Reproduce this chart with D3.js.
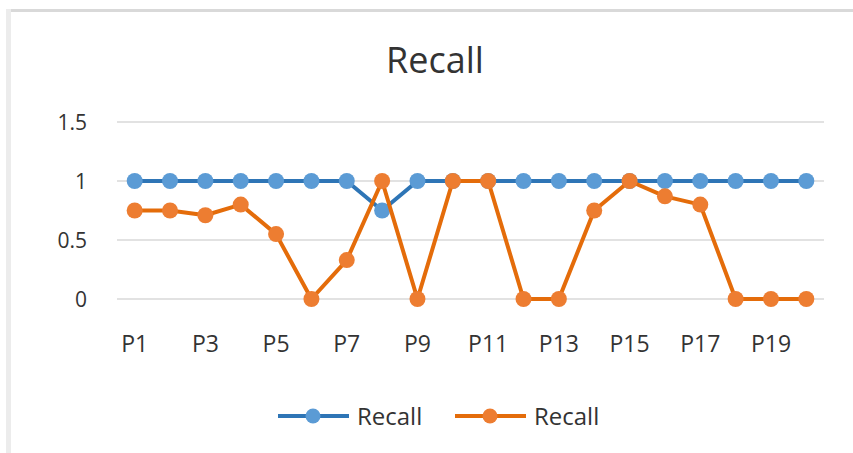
<!DOCTYPE html>
<html><head><meta charset="utf-8">
<script src="https://cdn.jsdelivr.net/npm/d3@7"></script>
<style>html,body{margin:0;padding:0;background:#fff;}svg{display:block;}</style>
</head><body>
<svg id="c" width="853" height="453"></svg>
<script>
const categories = ["P1","P2","P3","P4","P5","P6","P7","P8","P9","P10","P11","P12","P13","P14","P15","P16","P17","P18","P19","P20"];
const seriesBlue = [1,1,1,1,1,1,1,0.75,1,1,1,1,1,1,1,1,1,1,1,1];
const seriesOrange = [0.75,0.75,0.71,0.8,0.55,0,0.33,1,0,1,1,0,0,0.75,1,0.87,0.8,0,0,0];
const seriesNames = ["Recall","Recall"];
const yTicks = [0,0.5,1,1.5];
const yTickLabels = ["0","0.5","1","1.5"];
const titleText = "Recall";

const svg = d3.select("#c");
const font = "'Open Sans', 'Liberation Sans', sans-serif";
const textColor = "#333333";

// frame shadow
svg.append("rect").attr("x",7).attr("y",9).attr("width",846).attr("height",3).attr("fill","#d9d9d9");
svg.append("rect").attr("x",6).attr("y",9).attr("width",5).attr("height",444).attr("fill","#ececec");

const x = d3.scaleBand().domain(categories).range([117,824]);
const y = d3.scaleLinear().domain([0,1.5]).range([299,122]);

// gridlines
svg.append("g").selectAll("line").data(yTicks).join("line")
  .attr("x1",117).attr("x2",824).attr("y1",d=>y(d)).attr("y2",d=>y(d))
  .attr("stroke","#d9d9d9").attr("stroke-width",1.5);

// y axis
const yAxis = d3.axisLeft(y).tickValues(yTicks).tickFormat((d,i)=>yTickLabels[i]).tickSize(0).tickPadding(0);
const gy = svg.append("g").attr("transform","translate(87,0)").call(yAxis);
gy.select(".domain").remove();
gy.selectAll("text").attr("font-family",font).attr("font-size",21).attr("fill",textColor).attr("dy","0.36em");

// x axis
const xAxis = d3.axisBottom(x).tickValues(categories.filter((d,i)=>i%2===0)).tickSize(0).tickPadding(0);
const gx = svg.append("g").attr("transform","translate(0,344)").call(xAxis);
gx.select(".domain").remove();
gx.selectAll("text").attr("font-family",font).attr("font-size",23).attr("fill",textColor).attr("dy","0.36em");

const cx = d => x(d) + x.bandwidth()/2;
const line = d3.line().x((d,i)=>cx(categories[i])).y(d=>y(d));

function drawSeries(vals, lineColor, markColor){
  svg.append("path").datum(vals).attr("d",line).attr("fill","none")
    .attr("stroke",lineColor).attr("stroke-width",4).attr("stroke-linejoin","round");
  svg.append("g").selectAll("circle").data(vals).join("circle")
    .attr("cx",(d,i)=>cx(categories[i])).attr("cy",d=>y(d)).attr("r",8).attr("fill",markColor);
}
drawSeries(seriesBlue,"#2e75b6","#5b9bd5");
drawSeries(seriesOrange,"#e46c0a","#ed7d31");

// title
svg.append("text").attr("x",435).attr("y",73).attr("text-anchor","middle")
  .attr("font-family",font).attr("font-size",36).attr("fill",textColor).text(titleText);

// legend
const legend = [{c:"#2e75b6",m:"#5b9bd5",x:278,name:seriesNames[0]},{c:"#e46c0a",m:"#ed7d31",x:455,name:seriesNames[1]}];
const lg = svg.append("g").selectAll("g").data(legend).join("g");
lg.append("line").attr("x1",d=>d.x).attr("x2",d=>d.x+71).attr("y1",416).attr("y2",416)
  .attr("stroke",d=>d.c).attr("stroke-width",4);
lg.append("circle").attr("cx",d=>d.x+35).attr("cy",416).attr("r",7.5).attr("fill",d=>d.m);
lg.append("text").attr("x",d=>d.x+79).attr("y",416).attr("dy","0.36em")
  .attr("font-family",font).attr("font-size",24).attr("fill",textColor).text(d=>d.name);
</script>
</body></html>
